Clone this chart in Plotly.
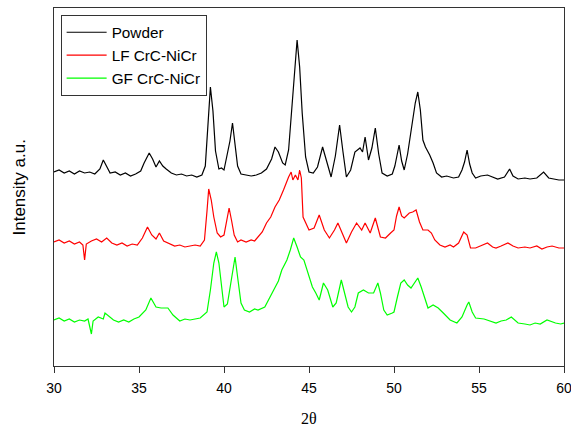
import plotly.graph_objects as go

# ---- Data (intensity in arbitrary units, with stacking offsets included) ----
powder_x = [30.0, 30.3, 30.6, 30.9, 31.2, 31.5, 31.8, 32.1, 32.4, 32.7, 32.9, 33.1, 33.3, 33.6, 33.9,
            34.2, 34.5, 34.8, 35.1, 35.3, 35.6, 35.8, 36.0, 36.2, 36.4, 36.6, 36.9, 37.2, 37.5, 37.8,
            38.1, 38.4, 38.7, 38.9, 39.05, 39.2, 39.35, 39.5, 39.7, 39.85, 40.0, 40.2, 40.35, 40.5,
            40.65, 40.8, 41.0, 41.3, 41.6, 41.9, 42.2, 42.5, 42.8, 43.0, 43.2, 43.45, 43.6, 43.8,
            44.0, 44.15, 44.3, 44.45, 44.6, 44.8, 45.0, 45.25, 45.5, 45.8, 46.05, 46.3, 46.55, 46.8,
            47.0, 47.2, 47.45, 47.7, 48.0, 48.15, 48.3, 48.5, 48.7, 48.9, 49.1, 49.3, 49.6, 49.9,
            50.05, 50.3, 50.45, 50.6, 50.8, 51.0, 51.1, 51.25, 51.4, 51.55, 51.7, 51.85, 52.1, 52.3,
            52.5, 52.8, 53.1, 53.5, 53.8, 54.0, 54.15, 54.3, 54.45, 54.6, 54.8, 55.1, 55.5, 55.8,
            56.1, 56.5, 56.8, 57.0, 57.3, 57.7, 58.0, 58.4, 58.8, 59.1, 59.4, 59.7, 60.0]
powder_y = [194, 196, 193, 195, 192, 195, 193, 194, 192, 197, 206, 199, 193, 194, 191,
            193, 190, 192, 195, 203, 213, 207, 199, 205, 200, 197, 193, 191, 192, 190,
            191, 189, 191, 200, 240, 279, 255, 215, 197, 198, 196, 212, 225, 243,
            222, 200, 192, 191, 190, 191, 193, 197, 207, 219, 214, 203, 201, 216,
            263, 296, 326, 299, 253, 209, 194, 193, 199, 219, 205, 189, 210, 241,
            214, 189, 196, 214, 218, 214, 229, 206, 218, 238, 212, 193, 190, 192,
            200, 221, 205, 196, 212, 235, 243, 263, 274, 256, 226, 219, 211, 203,
            193, 189, 190, 188, 189, 196, 204, 216, 202, 193, 188, 190, 191, 189,
            187, 189, 197, 190, 187, 188, 187, 188, 194, 188, 187, 186, 186]

lf_x = [30.0, 30.3, 30.6, 30.9, 31.2, 31.5, 31.7, 31.8, 31.9, 32.2, 32.5, 32.8, 33.1, 33.4, 33.7,
        34.0, 34.3, 34.6, 34.9, 35.2, 35.5, 35.75, 36.0, 36.2, 36.45, 36.8, 37.1, 37.4, 37.7, 38.0,
        38.3, 38.6, 38.85, 39.0, 39.1, 39.25, 39.4, 39.6, 39.8, 40.0, 40.15, 40.3, 40.45, 40.6,
        40.8, 41.0, 41.3, 41.6, 41.8, 42.0, 42.25, 42.5, 42.75, 43.0, 43.25, 43.5, 43.7, 43.8,
        43.95, 44.05, 44.2, 44.35, 44.45, 44.55, 44.65, 44.8, 45.0, 45.3, 45.6, 45.9, 46.2, 46.5,
        46.7, 47.0, 47.2, 47.5, 47.8, 48.1, 48.3, 48.6, 48.9, 49.2, 49.5, 49.8, 50.0, 50.15,
        50.3, 50.45, 50.6, 50.9, 51.1, 51.3, 51.5, 51.7, 52.0, 52.2, 52.4, 52.7, 53.0, 53.3,
        53.5, 53.8, 54.1, 54.3, 54.5, 54.8, 55.1, 55.5, 55.8, 56.0, 56.3, 56.7, 57.0, 57.3,
        57.7, 58.0, 58.4, 58.7, 59.0, 59.3, 59.7, 60.0]
lf_y = [124, 126, 123, 125, 122, 124, 121, 106, 122, 125, 127, 124, 128, 123, 121,
        123, 120, 122, 121, 128, 139, 131, 127, 133, 125, 122, 120, 121, 119, 120,
        121, 120, 126, 155, 177, 166, 149, 133, 129, 131, 145, 158, 145, 131,
        124, 126, 124, 126, 125, 129, 134, 143, 149, 159, 166, 176, 186, 189,
        194, 186, 191, 186, 196, 188, 149, 144, 136, 138, 151, 136, 128, 136,
        143, 131, 123, 134, 143, 136, 143, 133, 148, 129, 128, 133, 136, 150,
        159, 150, 148, 153, 154, 156, 144, 136, 136, 133, 126, 121, 119, 121,
        119, 123, 134, 131, 118, 118, 120, 123, 119, 118, 120, 123, 120, 118,
        119, 118, 120, 117, 119, 120, 118, 118]

gf_x = [30.0, 30.3, 30.6, 30.9, 31.2, 31.5, 31.8, 32.0, 32.2, 32.3, 32.6, 32.9, 33.0, 33.2, 33.5,
        33.8, 34.1, 34.4, 34.7, 35.0, 35.4, 35.7, 36.0, 36.3, 36.7, 37.0, 37.4, 37.7, 38.0, 38.3,
        38.6, 39.0, 39.2, 39.4, 39.55, 39.7, 39.9, 40.0, 40.2, 40.4, 40.65, 40.8, 41.0, 41.2,
        41.5, 41.8, 42.0, 42.4, 42.7, 43.0, 43.2, 43.4, 43.7, 43.9, 44.1, 44.3, 44.5, 44.7,
        44.9, 45.2, 45.4, 45.6, 45.85, 46.1, 46.4, 46.6, 46.9, 47.1, 47.3, 47.5, 47.7, 47.9,
        48.2, 48.5, 48.8, 49.05, 49.2, 49.4, 49.6, 49.9, 50.0, 50.2, 50.4, 50.6, 50.8, 51.0,
        51.2, 51.4, 51.6, 51.8, 52.0, 52.3, 52.6, 52.9, 53.3, 53.7, 54.0, 54.3, 54.4, 54.6,
        54.8, 55.3, 55.7, 56.0, 56.3, 56.6, 56.9, 57.3, 57.7, 58.0, 58.3, 58.6, 59.0, 59.3,
        59.5, 59.8, 60.0]
gf_y = [46, 48, 45, 47, 44, 46, 45, 47, 32, 45, 49, 47, 53, 50, 46,
        44, 46, 44, 47, 49, 56, 68, 59, 58, 58, 51, 45, 47, 46, 47,
        48, 54, 76, 103, 114, 103, 73, 59, 62, 83, 109, 89, 63, 56,
        54, 57, 56, 59, 69, 79, 85, 96, 106, 116, 128, 119, 109, 106,
        96, 79, 73, 66, 83, 76, 59, 63, 86, 73, 59, 54, 59, 73,
        76, 73, 73, 83, 73, 56, 51, 53, 54, 69, 83, 86, 81, 78,
        83, 88, 79, 69, 58, 61, 58, 53, 46, 43, 49, 61, 64, 54,
        48, 47, 45, 43, 45, 46, 49, 43, 42, 41, 43, 42, 46, 44,
        43, 42, 43]

series_names = ["Powder", "LF CrC-NiCr", "GF CrC-NiCr"]
series_colors = ["#000000", "#ff0000", "#00ff00"]
x_ticks = [30, 35, 40, 45, 50, 55, 60]

fig = go.Figure()
for name, xs, ys, col in zip(series_names, [powder_x, lf_x, gf_x], [powder_y, lf_y, gf_y], series_colors):
    fig.add_trace(go.Scatter(x=xs, y=ys, mode="lines", name=name,
                             line=dict(color=col, width=1.2)))

# plot area at x 54..564 px, y 8..366 px of the 571x428 window
fig.update_layout(
    width=571, height=428,
    margin=dict(l=54, r=7, t=8, b=62),
    paper_bgcolor="white", plot_bgcolor="white",
    font=dict(family="Liberation Sans, Arial, sans-serif", size=14, color="#000000"),
    legend=dict(x=0.013, y=0.981, xanchor="left", yanchor="top",
                bordercolor="#333333", borderwidth=1, bgcolor="white",
                font=dict(size=15.3), tracegroupgap=0, itemwidth=40),
    showlegend=True,
    annotations=[
        dict(text="2θ", xref="paper", yref="paper", x=0.5, y=-52 / 358,
             xanchor="center", yanchor="middle", showarrow=False,
             font=dict(family="Liberation Serif, Times New Roman, serif", size=16)),
        dict(text="Intensity a.u.", xref="paper", yref="paper", x=-34 / 510, y=0.4986,
             xanchor="center", yanchor="middle", textangle=-90, showarrow=False,
             font=dict(size=17)),
    ],
)
fig.update_xaxes(range=[30, 60], tickvals=x_ticks, ticks="outside", ticklen=6,
                 tickcolor="#333333", showline=True, linecolor="#333333", linewidth=1,
                 mirror=True, showgrid=False, zeroline=False, automargin=False,
                 ticklabeloverflow="allow", ticklabelstandoff=3, tickfont=dict(size=14))
fig.update_yaxes(range=[0, 358], showticklabels=False, ticks="", showline=True,
                 linecolor="#333333", linewidth=1, mirror=True, showgrid=False, zeroline=False,
                 automargin=False)

fig.write_html("out.html",
               config={"displayModeBar": False},
               post_script="document.body.style.margin='0px';document.body.style.overflow='hidden';")
